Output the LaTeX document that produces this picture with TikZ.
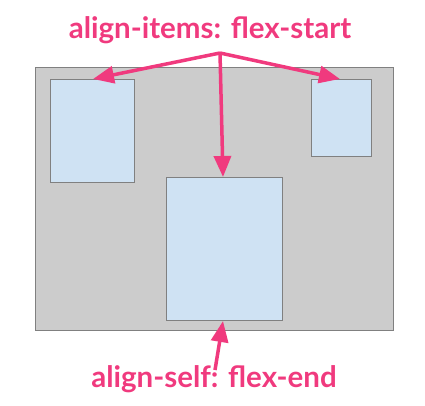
\documentclass[tikz,border=0pt]{standalone}
\usepackage{fontspec}
\setmainfont{Lato}
\usetikzlibrary{arrows.meta}
\definecolor{pinkc}{RGB}{240,58,126}
\definecolor{boxfill}{RGB}{207,226,243}
\definecolor{contfill}{RGB}{204,204,204}
\definecolor{edgec}{RGB}{128,128,128}
\tikzset{
  item/.style={draw=edgec, fill=boxfill, line width=1pt},
  lbl/.style={text=pinkc, font=\bfseries\fontsize{29.5}{34}\selectfont, inner sep=0pt},
  parrow/.style={draw=pinkc, line width=3.5pt, -{Triangle[length=21pt,width=17pt]}},
}
\begin{document}
\begin{tikzpicture}[x=1pt,y=-1pt]
\useasboundingbox (0,0) rectangle (425,405);
\draw[draw=edgec, fill=contfill, line width=1pt] (35,67) rectangle (393,330);
\draw[item] (50,79) rectangle (134,182);
\draw[item] (311,79) rectangle (371,156);
\draw[item] (166,177) rectangle (282,320);
\coordinate (b1) at (93,79);
\coordinate (b3) at (340,79);
\coordinate (b2t) at (223,177);
\coordinate (b2b) at (223,321);
\node[lbl] (t1) at (210,30) {align-items: flex-start};
\node[lbl] (t2) at (214,379) {align-self: flex-end};
\coordinate (o) at (220,53);
\coordinate (o2) at (215,370);
\draw[parrow] (o) -- (b1);
\draw[parrow] (o) -- (b3);
\draw[parrow] (o) -- (b2t);
\draw[parrow] (o2) -- (b2b);
\end{tikzpicture}
\end{document}
